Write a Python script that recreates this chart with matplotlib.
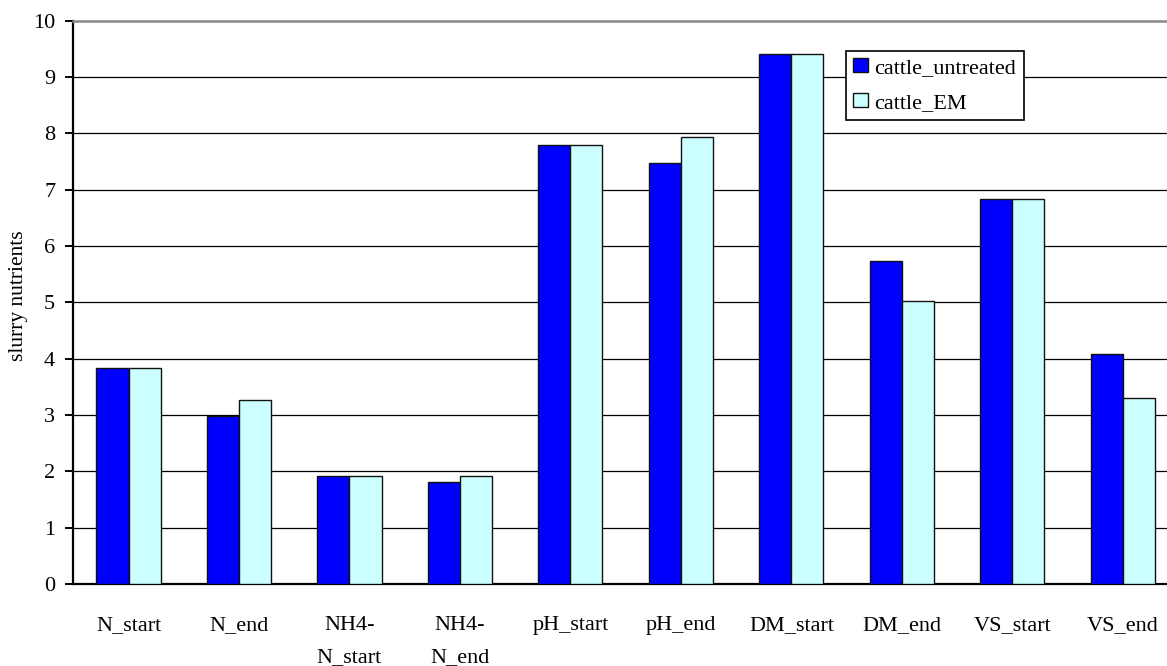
import matplotlib
matplotlib.use("Agg")
import matplotlib.pyplot as plt
import numpy as np

categories = ["N_start", "N_end", "NH4-\nN_start", "NH4-\nN_end", "pH_start",
              "pH_end", "DM_start", "DM_end", "VS_start", "VS_end"]
cattle_untreated = [3.83, 2.98, 1.91, 1.81, 7.80, 7.48, 9.40, 5.74, 6.84, 4.09]
cattle_EM = [3.83, 3.27, 1.91, 1.91, 7.80, 7.94, 9.40, 5.03, 6.84, 3.30]
series_names = ["cattle_untreated", "cattle_EM"]
yticks = list(range(0, 11))

plt.rcParams['font.family'] = ['Liberation Serif', 'DejaVu Serif']

W, H = 1167, 666
FS = 16
fig = plt.figure(figsize=(W / 100, H / 100), dpi=100)
ax = fig.add_axes([73.3 / W, (H - 584) / H, (W - 73.3) / W, (584 - 20.7) / H])

x = np.arange(len(categories))
bw = 0.29
ax.bar(x - bw / 2, cattle_untreated, bw, color="#0000FF", edgecolor="#111111",
       linewidth=1.0, label=series_names[0], zorder=3)
ax.bar(x + bw / 2, cattle_EM, bw, color="#CCFFFF", edgecolor="#111111",
       linewidth=1.0, label=series_names[1], zorder=3)

ax.set_xlim(-0.5, (W - 128.3) / 110.5)
ax.set_ylim(0, 10)
ax.set_yticks(yticks)
ax.set_yticklabels([str(t) for t in yticks])
ax.set_xticks(x)
ax.set_xticklabels(categories, linespacing=1.95)

for yv in yticks[1:-1]:
    ax.axhline(yv, color="black", linewidth=0.9, zorder=1)

ax.spines['right'].set_visible(False)
ax.spines['top'].set_color("#888888")
ax.spines['top'].set_linewidth(1.8)
ax.spines['left'].set_linewidth(1.6)
ax.spines['bottom'].set_linewidth(1.6)

ax.tick_params(axis='y', length=5.5, width=1.4, pad=7.5, labelsize=FS)
ax.tick_params(axis='x', length=0, pad=23, labelsize=FS)

fig.text(18.5 / W, 1 - 296 / H, "slurry nutrients", rotation=90,
         ha="center", va="center", fontsize=15.5)

leg = ax.legend(loc="upper left", bbox_to_anchor=(846 / W, 1 - 50.7 / H),
                bbox_transform=fig.transFigure, fontsize=FS, frameon=True,
                fancybox=False, framealpha=1, edgecolor="black",
                handlelength=0.65, handleheight=0.6, handletextpad=0.3,
                borderpad=0.33, labelspacing=0.68, borderaxespad=0)
leg.get_frame().set_linewidth(1.2)

fig.savefig("out.png", dpi=100)
